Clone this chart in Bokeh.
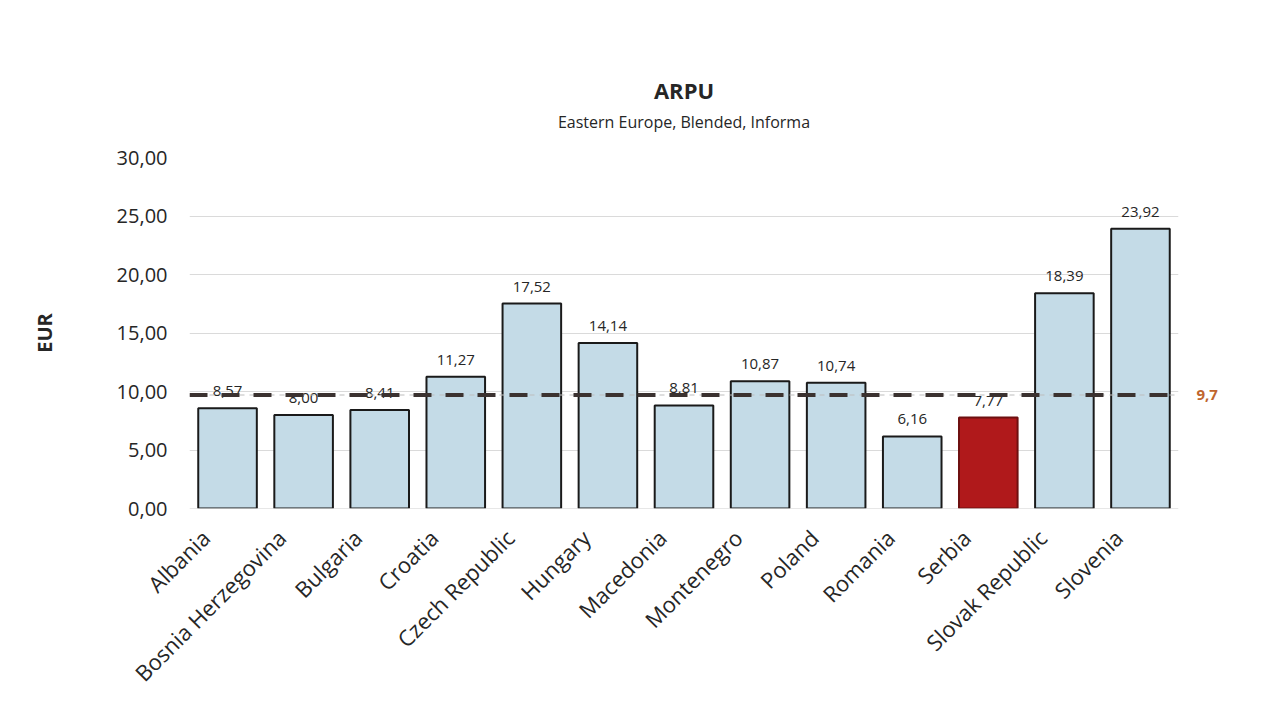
import math
from bokeh.plotting import figure
from bokeh.models import (ColumnDataSource, LabelSet, Span, FixedTicker, Range1d,
                          LinearAxis, Title)
from bokeh.core.properties import value
from bokeh.embed import file_html
from bokeh.resources import INLINE

# ---- data ----
countries = ["Albania", "Bosnia Herzegovina", "Bulgaria", "Croatia", "Czech Republic",
             "Hungary", "Macedonia", "Montenegro", "Poland", "Romania", "Serbia",
             "Slovak Republic", "Slovenia"]
arpu = [8.57, 8.00, 8.41, 11.27, 17.52, 14.14, 8.81, 10.87, 10.74, 6.16, 7.77, 18.39, 23.92]
highlight = "Serbia"
average = 9.7
average_label = "9,7"
y_ticks = [0, 5, 10, 15, 20, 25, 30]
y_tick_labels = ["0,00", "5,00", "10,00", "15,00", "20,00", "25,00", "30,00"]
title_text = "ARPU"
subtitle_text = "Eastern Europe, Blended, Informa"
y_label_text = "EUR"

FONT = "Open Sans"
BAR = "#c4dbe7"
RED = "#b0191b"
TXT = "#262626"
LABEL_SHIFT = 0.29  # category labels sit slightly left of their bars (Excel style)

n = len(countries)
pos = [i + 0.5 for i in range(n)]  # category slot centres
labels = [f"{v:.2f}".replace(".", ",") for v in arpu]
fills = [RED if c == highlight else BAR for c in countries]
lines = ["#6e1010" if c == highlight else "#1a1a1a" for c in countries]
src = ColumnDataSource(dict(x=pos, top=arpu, text=labels, fill=fills, line=lines))

p = figure(width=1258, height=700, x_range=Range1d(0, n), y_range=Range1d(0, 30),
           output_backend="svg", toolbar_location=None,
           min_border_left=189, min_border_right=80, min_border_top=157, min_border_bottom=192)
p.outline_line_color = None
p.background_fill_color = "white"
p.border_fill_color = "white"

p.vbar(x="x", top="top", width=0.77, source=src, fill_color="fill", line_color="line", line_width=2)

# left axis
p.yaxis.ticker = FixedTicker(ticks=y_ticks)
p.yaxis.major_label_overrides = {t: l for t, l in zip(y_ticks, y_tick_labels)}
p.yaxis.axis_line_color = None
p.yaxis.major_tick_line_color = None
p.yaxis.minor_tick_line_color = None
p.yaxis.major_tick_out = 0
p.yaxis.major_label_standoff = 22
p.yaxis.major_label_text_font = FONT
p.yaxis.major_label_text_font_size = "20px"
p.yaxis.major_label_text_color = TXT
p.yaxis.axis_label = y_label_text
p.yaxis.axis_label_text_font = FONT
p.yaxis.axis_label_text_font_size = "20px"
p.yaxis.axis_label_text_font_style = "bold"
p.yaxis.axis_label_text_color = TXT
p.yaxis.axis_label_standoff = 56

# right axis carrying the average value label
avg_axis = LinearAxis(ticker=FixedTicker(ticks=[average]),
                      major_label_overrides={average: average_label},
                      axis_line_color=None, major_tick_line_color=None,
                      minor_tick_line_color=None, major_tick_out=0,
                      major_label_standoff=18, major_label_text_font=FONT,
                      major_label_text_font_size="15px", major_label_text_font_style="bold",
                      major_label_text_color="#c0652e")
p.add_layout(avg_axis, "right")

# bottom axis: default one hidden, a label axis offset slightly to the left
p.xaxis.visible = False
p.extra_x_ranges = {"lbl": Range1d(start=LABEL_SHIFT, end=n + LABEL_SHIFT)}
lbl_axis = LinearAxis(x_range_name="lbl", ticker=FixedTicker(ticks=pos, minor_ticks=[]),
                      major_label_overrides={t: c for t, c in zip(pos, countries)},
                      axis_line_color=None, major_tick_line_color=None,
                      minor_tick_line_color=None, major_tick_out=0,
                      major_label_orientation=math.pi / 4, major_label_standoff=25,
                      major_label_text_font=FONT, major_label_text_font_size="22px",
                      major_label_text_color=TXT)
p.add_layout(lbl_axis, "below")

p.xgrid.grid_line_color = None
p.ygrid.grid_line_color = "#dadada"
p.ygrid.grid_line_width = 1

# baseline at zero
p.add_layout(Span(location=0, dimension="width", line_color="#d0d0d0", line_width=1))

# value labels
p.add_layout(LabelSet(x="x", y="top", text="text", source=src, y_offset=12,
                      text_align="center", text_baseline="bottom",
                      text_font=value(FONT), text_font_size=value("15px"),
                      text_color=TXT))

# average line
p.add_layout(Span(location=average, dimension="width", line_color="#bdbdbd",
                  line_width=1, line_dash="5 5"))
p.add_layout(Span(location=average, dimension="width", line_color="#3b3230",
                  line_width=4, line_dash="18 14"))

# titles
p.add_layout(Title(text=subtitle_text, align="center", text_font=FONT, text_font_size="16px",
                   text_font_style="normal", text_color=TXT, standoff=50), "above")
p.add_layout(Title(text=title_text, align="center", text_font=FONT, text_font_size="22px",
                   text_font_style="bold", text_color=TXT, standoff=-42), "above")

open("out.html", "w").write(file_html(p, INLINE))
